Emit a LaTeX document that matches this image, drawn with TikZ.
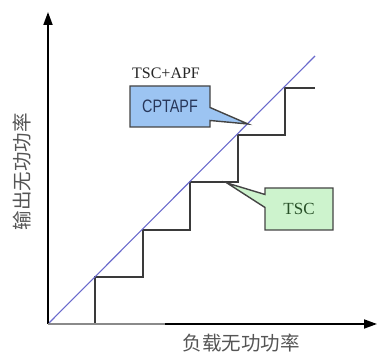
\documentclass[tikz,border=0pt]{standalone}
\usepackage{fontspec}
\setmainfont{Liberation Serif}
\newfontfamily\cjk{Noto Sans CJK SC}
\newfontfamily\narrowsans[FakeStretch=0.8]{Liberation Sans}
\usetikzlibrary{shapes.callouts,arrows.meta}
\definecolor{axisgray}{HTML}{8A8A8A}
\definecolor{stairgray}{HTML}{3A3A3A}
\definecolor{diagblue}{HTML}{6A6ACC}
\definecolor{boxblue}{HTML}{9CC4F2}
\definecolor{boxgreen}{HTML}{CDF3CD}
\definecolor{boxedge}{HTML}{444444}
\definecolor{labelgray}{HTML}{555555}
\tikzset{
  axis/.style={line width=1.8pt, black, -{Triangle[length=13pt,width=9pt]}},
  stair/.style={line width=1.3pt, stairgray},
  ideal/.style={line width=1.1pt, diagblue},
  note/.style={rectangle callout, draw=boxedge, line width=1.4pt,
    callout pointer width=13pt, inner sep=0pt},
  axislabel/.style={font=\cjk\fontsize{19.5}{20}\selectfont, text=labelgray}
}
\begin{document}
\begin{tikzpicture}[x=1pt,y=1pt]
  \useasboundingbox (0,0) rectangle (377,352);
  % frame points
  \coordinate (O) at (48,28);
  \coordinate (ytip) at (48,340);
  \coordinate (xmid) at (165,28);
  \coordinate (xtip) at (377,28);
  \coordinate (dend) at (315,296);
  % stepped output of switched capacitors
  \draw[stair] (95,28) |- (143,75) |- (190,122) |- (238,170) |- (285,217) |- (315,264);
  % continuous compensation line
  \draw[ideal] (O) -- (dend);
  % axes
  \draw[axis] (O) -- (ytip);
  \draw[line width=1.2pt, axisgray] (O) -- (xmid);
  \draw[axis] (xmid) -- (xtip);
  % labels
  \node[axislabel] (xl) at (241,9) {负载无功功率};
  \node[axislabel, rotate=90] (yl) at (22,180) {输出无功功率};
  \node[font=\fontsize{16}{18}\selectfont, text=black!85] (combo) at (166,279) {TSC+APF};
  \node[note, fill=boxblue, minimum width=80pt, minimum height=41pt,
        callout absolute pointer={(248,228)},
        font=\narrowsans\fontsize{18}{20}\selectfont, text={rgb,255:red,40;green,55;blue,90}]
        (cpt) at (170,245.5) {CPTAPF};
  \node[note, fill=boxgreen, minimum width=68pt, minimum height=42pt,
        callout absolute pointer={(227,169)},
        font=\fontsize{17}{19}\selectfont, text={rgb,255:red,40;green,80;blue,40}]
        (tsc) at (299,143) {TSC};
\end{tikzpicture}
\end{document}
